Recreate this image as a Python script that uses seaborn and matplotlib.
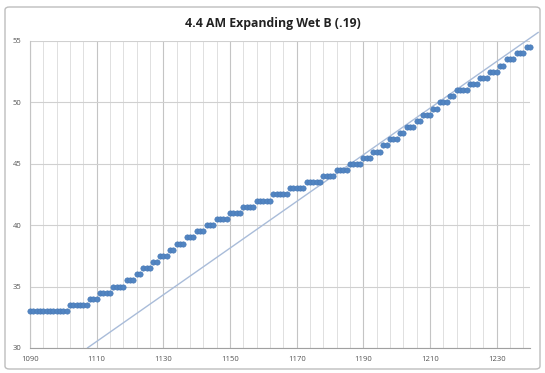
import numpy as np
import pandas as pd
import matplotlib
matplotlib.use("Agg")
import matplotlib.pyplot as plt
from matplotlib.patches import FancyBboxPatch
from matplotlib.ticker import FixedLocator
import seaborn as sns

# Temperature readings: each level held for a number of consecutive samples
start_time = 1090
temp_levels = [33, 33.5, 34, 34.5, 35, 35.5, 36, 36.5, 37, 37.5, 38, 38.5,
               39, 39.5, 40, 40.5, 41, 41.5, 42, 42.5, 43, 43.5, 44, 44.5,
               45, 45.5, 46, 46.5, 47, 47.5, 48, 48.5, 49, 49.5, 50, 50.5,
               51, 51.5, 52, 52.5, 53, 53.5, 54, 54.5]
samples_per_level = [12, 6, 3, 4, 4, 3, 2, 3, 2, 3, 2, 3,
                     3, 3, 3, 4, 4, 4, 5, 5, 5, 5, 4, 4,
                     4, 3, 3, 2, 3, 2, 3, 2, 3, 2, 3, 2,
                     4, 3, 3, 3, 2, 3, 3, 2]

# Reference slope line
trend_slope = 0.19
trend_x0, trend_y0 = 1107.2, 30.0
trend_x1 = 1242.5

x_ticks = [1090, 1110, 1130, 1150, 1170, 1190, 1210, 1230]
x_minor_step = 4
y_ticks = [30, 35, 40, 45, 50, 55]

temps = np.repeat(temp_levels, samples_per_level)
times = start_time + np.arange(len(temps))
df = pd.DataFrame({"time": times, "temp": temps})

sns.set_theme(style="white")
plt.rcParams["font.family"] = ["Open Sans", "DejaVu Sans"]

fig = plt.figure(figsize=(5.45, 3.73), dpi=100)
fig.patch.set_facecolor("white")

# chart-area frame
frame = FancyBboxPatch((5 / 545, 4 / 373), 535 / 545, 362 / 373,
                       boxstyle="round,pad=0,rounding_size=0.008",
                       transform=fig.transFigure, facecolor="none",
                       edgecolor="#bdbdbd", linewidth=1.0)
fig.patches.append(frame)

ax = fig.add_axes([30 / 545, 1 - 348 / 373, 500 / 545, 307 / 373])
ax.set_xlim(1090, 1240)
ax.set_ylim(30, 55)

ax.set_xticks(x_ticks)
minor = [t for t in range(x_ticks[0], 1241, x_minor_step) if t not in x_ticks]
ax.xaxis.set_minor_locator(FixedLocator(minor))
ax.set_yticks(y_ticks)

ax.grid(which="major", axis="x", color="#c4c4c4", linewidth=0.8)
ax.grid(which="minor", axis="x", color="#e0e0e0", linewidth=0.7)
ax.grid(which="major", axis="y", color="#d0d0d0", linewidth=0.8)
ax.set_axisbelow(True)

for side in ["top", "right"]:
    ax.spines[side].set_visible(False)
ax.spines["left"].set_color("#c4c4c4")
ax.spines["bottom"].set_color("#a0a0a0")
ax.spines["left"].set_linewidth(0.8)
ax.spines["bottom"].set_linewidth(0.8)

ax.tick_params(axis="both", which="major", labelsize=5.5, colors="#9a9a9a",
               length=3, width=0.6, direction="out", pad=3)
ax.tick_params(axis="x", which="minor", length=0)
for lbl in ax.get_xticklabels() + ax.get_yticklabels():
    lbl.set_color("#555555")

trend_x = np.array([trend_x0, trend_x1])
trend_y = trend_y0 + trend_slope * (trend_x - trend_x0)
ax.plot(trend_x, trend_y, color="#a9bcd9", linewidth=1.0, clip_on=False,
        zorder=2)

sns.scatterplot(data=df, x="time", y="temp", ax=ax, color="#5285c2",
                marker="o", s=15, edgecolor="#4677b4", linewidth=0.4,
                zorder=3, clip_on=False)

ax.set_xlabel("")
ax.set_ylabel("")
fig.text(0.5, 1 - 23 / 373, "4.4 AM Expanding Wet B (.19)", ha="center",
         va="center", fontsize=8.8, fontweight="bold", color="#222222")

fig.savefig("out.png", dpi=100)
